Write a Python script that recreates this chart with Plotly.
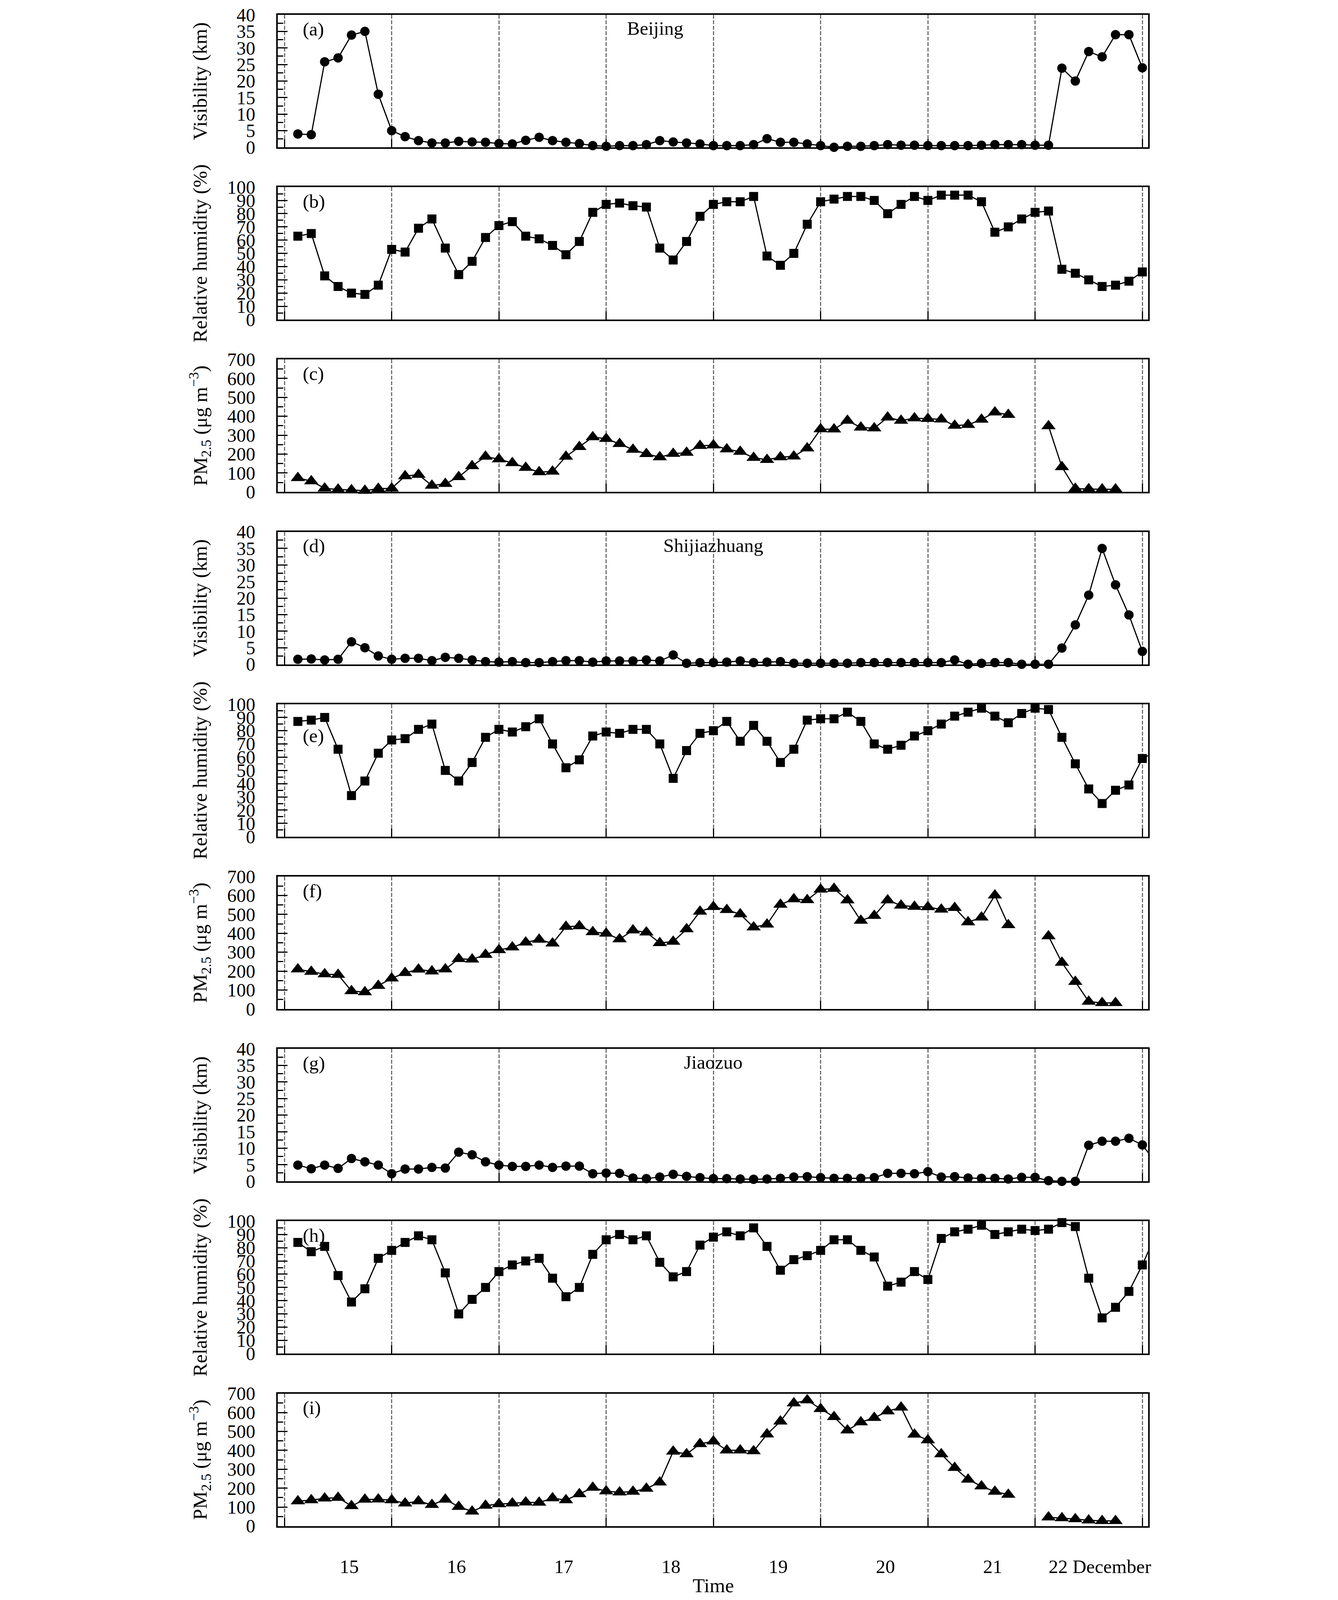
import plotly.graph_objects as go

# ---------------- data (3-hourly, 15-22 December) ----------------
hours = list(range(3, 196, 3))  # 65 time stamps in hours from 15 Dec 00:00 (last lies just past the axis end)

day_labels = ["15", "16", "17", "18", "19", "20", "21", "22 December"]

vis_ticks = [0, 5, 10, 15, 20, 25, 30, 35, 40]
rh_ticks = [0, 10, 20, 30, 40, 50, 60, 70, 80, 90, 100]
pm_ticks = [0, 100, 200, 300, 400, 500, 600, 700]

# Beijing
vis_beijing = [4, 3.8, 25.8, 27, 33.9, 35, 16, 5,
               3.2, 2, 1.3, 1.3, 1.8, 1.6, 1.5, 1.1,
               1, 2.1, 3, 2, 1.5, 1.1, 0.5, 0.3,
               0.5, 0.5, 0.8, 2, 1.6, 1.3, 1, 0.5,
               0.5, 0.5, 0.8, 2.6, 1.5, 1.5, 1, 0.5,
               0, 0.3, 0.3, 0.5, 0.8, 0.6, 0.6, 0.5,
               0.5, 0.5, 0.5, 0.6, 0.8, 0.8, 0.8, 0.6,
               0.6, 23.9, 20, 28.9, 27.3, 34, 34, 24,
               None]
rh_beijing = [63, 65, 33, 25, 20, 19, 26, 53,
              51, 69, 76, 54, 34, 44, 62, 71,
              74, 63, 61, 56, 49, 59, 81, 87,
              88, 86, 85, 54, 45, 59, 78, 87,
              89, 89, 93, 48, 41, 50, 72, 89,
              91, 93, 93, 90, 80, 87, 93, 90,
              94, 94, 94, 89, 66, 70, 76, 81,
              82, 38, 35, 30, 25, 26, 29, 36,
              None]
pm_beijing = [74, 57, 19, 13, 10, 7, 17, 19,
              84, 91, 34, 43, 79, 137, 187, 173,
              153, 128, 105, 108, 187, 238, 290, 281,
              254, 224, 201, 184, 202, 208, 244, 247,
              226, 213, 181, 170, 184, 188, 231, 332,
              331, 377, 341, 337, 394, 377, 390, 387,
              384, 351, 355, 383, 421, 408, None, None,
              348, 132, 17, 15, 14, 14, None, None,
              None]

# Shijiazhuang
vis_shijiazhuang = [1.5, 1.6, 1.3, 1.5, 6.8, 5, 2.5, 1.5,
                    1.8, 1.8, 1.1, 2.1, 1.8, 1.3, 0.8, 0.65,
                    0.8, 0.5, 0.5, 0.8, 1.1, 1.1, 0.65, 1,
                    1, 1, 1.3, 1, 2.8, 0.3, 0.5, 0.5,
                    0.65, 1, 0.5, 0.65, 0.8, 0.3, 0.3, 0.3,
                    0.3, 0.3, 0.5, 0.5, 0.5, 0.5, 0.5, 0.5,
                    0.5, 1.3, 0, 0.3, 0.5, 0.5, 0, 0,
                    0, 4.9, 11.9, 20.9, 35, 24, 14.9, 3.9,
                    None]
rh_shijiazhuang = [87, 88, 90, 66, 31, 42, 63, 73,
                   74, 81, 85, 50, 42, 56, 75, 81,
                   79, 83, 89, 70, 52, 58, 76, 79,
                   78, 81, 81, 70, 44, 65, 78, 80,
                   87, 72, 84, 72, 56, 66, 88, 89,
                   89, 94, 87, 70, 66, 69, 76, 80,
                   85, 91, 94, 97, 91, 86, 93, 97,
                   96, 75, 55, 36, 25, 35, 39, 59,
                   64]
pm_shijiazhuang = [210, 197, 184, 181, 95, 89, 123, 162,
                   191, 209, 199, 210, 265, 262, 287, 312,
                   326, 352, 367, 347, 435, 438, 407, 399,
                   369, 416, 405, 349, 356, 422, 515, 540,
                   524, 501, 432, 447, 552, 581, 576, 632,
                   636, 575, 467, 493, 575, 547, 541, 539,
                   526, 535, 459, 484, 601, 444, None, None,
                   385, 245, 144, 39, 32, 32, None, None,
                   None]

# Jiaozuo
vis_jiaozuo = [4.9, 3.8, 4.9, 3.9, 6.9, 5.9, 4.9, 2.3,
               3.7, 3.7, 4.2, 4, 8.8, 8, 5.9, 4.9,
               4.5, 4.5, 4.9, 4.2, 4.6, 4.6, 2.3, 2.5,
               2.4, 1, 0.8, 1.3, 2.1, 1.5, 1.1, 0.8,
               0.8, 0.7, 0.6, 0.7, 0.9, 1.3, 1.4, 1.1,
               0.9, 0.9, 0.9, 1.1, 2.4, 2.4, 2.3, 2.9,
               1.3, 1.4, 1, 0.9, 0.9, 0.7, 1.2, 1.2,
               0.2, 0, 0, 10.9, 12.1, 12.1, 13, 11,
               5.7]
rh_jiaozuo = [84, 77, 81, 59, 39, 49, 72, 78,
              84, 89, 86, 61, 30, 41, 50, 62,
              67, 70, 72, 57, 43, 50, 75, 86,
              90, 86, 89, 69, 58, 62, 82, 88,
              92, 89, 95, 81, 63, 71, 74, 78,
              86, 86, 78, 73, 51, 54, 62, 56,
              87, 92, 94, 97, 90, 92, 94, 93,
              94, 99, 96, 57, 27, 35, 47, 67,
              90]
pm_jiaozuo = [131, 137, 146, 150, 106, 140, 141, 137,
              120, 131, 112, 140, 102, 77, 108, 116,
              120, 125, 124, 147, 137, 169, 203, 184,
              178, 182, 198, 231, 394, 380, 434, 448,
              400, 400, 396, 485, 553, 649, 665, 619,
              577, 506, 549, 572, 607, 627, 484, 454,
              380, 308, 246, 210, 182, 166, None, None,
              46, 42, 37, 30, 27, 27, None, None,
              None]

# ---------------- styling / layout ----------------
# The viewing window is 3425 px wide but only 4096 px tall, so the
# 3425x4954 reference layout is mapped onto 3425x4096 (vertical factor SY).
FONT = "Liberation Serif"
REF_H = 4954
W, H = 3425, 4096
SY = H / REF_H
FS = 0.88  # font / marker scale to suit the squeezed height

ML, MR = 711, 486
REF_TOP0, REF_STEP, REF_PANEL_H = 34, 535, 411
MT = round(REF_TOP0 * SY)
last_bottom = (REF_TOP0 + 8 * REF_STEP + REF_PANEL_H) * SY
MB = round(H - last_bottom)
PLOT_W = W - ML - MR
PLOT_H = H - MT - MB
PANEL_H = REF_PANEL_H * SY
PANEL_STEP = REF_STEP * SY
N_MARK = 64  # markers drawn for the in-range stamps only

vis_title = "Visibility (km)"
rh_title = "Relative humidity (%)"
pm_title = "PM<sub>2.5</sub> (μg m<sup>−3</sup>)"

CIRCLE, SQUARE, TRI = round(27 * FS), round(26 * FS), round(36 * FS)
panels = [
    ("(a)", "Beijing", vis_beijing, "circle", CIRCLE, vis_title, vis_ticks, 2.5),
    ("(b)", None, rh_beijing, "square", SQUARE, rh_title, rh_ticks, 5),
    ("(c)", None, pm_beijing, "triangle-up", TRI, pm_title, pm_ticks, 50),
    ("(d)", "Shijiazhuang", vis_shijiazhuang, "circle", CIRCLE, vis_title, vis_ticks, 2.5),
    ("(e)", None, rh_shijiazhuang, "square", SQUARE, rh_title, rh_ticks, 5),
    ("(f)", None, pm_shijiazhuang, "triangle-up", TRI, pm_title, pm_ticks, 50),
    ("(g)", "Jiaozuo", vis_jiaozuo, "circle", CIRCLE, vis_title, vis_ticks, 2.5),
    ("(h)", None, rh_jiaozuo, "square", SQUARE, rh_title, rh_ticks, 5),
    ("(i)", None, pm_jiaozuo, "triangle-up", TRI, pm_title, pm_ticks, 50),
]
city_x = {"Beijing": 83, "Shijiazhuang": 96, "Jiaozuo": 96}
tag_drop = {"(e)": 98}  # reference px below the panel top; others use 44

label_pos = [24 * i + 14.5 for i in range(len(day_labels))]

F_TICK_Y = round(54 * FS)
F_TICK_X = round(56 * FS)
F_TITLE = round(58 * FS)
F_LABEL = round(56 * FS)

fig = go.Figure()
annotations = []
layout_axes = {}

for i, (tag, city, series, sym, msize, ytitle, yticks, yminor) in enumerate(panels):
    n = i + 1
    xs = "x" if n == 1 else f"x{n}"
    ys = "y" if n == 1 else f"y{n}"
    top_px = i * PANEL_STEP
    y1 = 1 - top_px / PLOT_H
    y0 = 1 - (top_px + PANEL_H) / PLOT_H

    fig.add_trace(go.Scatter(x=hours, y=series, mode="lines",
                             line=dict(color="black", width=3),
                             connectgaps=False, xaxis=xs, yaxis=ys,
                             showlegend=False, hoverinfo="skip"))
    fig.add_trace(go.Scatter(x=hours[:N_MARK], y=series[:N_MARK], mode="markers",
                             marker=dict(symbol=sym, size=msize, color="black",
                                         line=dict(width=0)),
                             cliponaxis=False, xaxis=xs, yaxis=ys,
                             showlegend=False))

    xkey = "xaxis" if n == 1 else f"xaxis{n}"
    ykey = "yaxis" if n == 1 else f"yaxis{n}"
    layout_axes[xkey] = dict(
        domain=[0, 1], anchor=ys, range=[-1.5, 193.3],
        showline=True, mirror=True, linecolor="black", linewidth=4,
        showgrid=False, zeroline=False, ticks="",
        tickmode="array", tickvals=label_pos, ticktext=day_labels,
        showticklabels=(n == 9),
        tickfont=dict(family=FONT, size=F_TICK_X, color="black"),
        ticklabelstandoff=round(70 * SY),
        minor=dict(tick0=0, dtick=24, ticks="inside", ticklen=round(25 * SY), tickwidth=3,
                   tickcolor="black", showgrid=True, gridcolor="#6e6e6e",
                   gridwidth=3, griddash="10px,4px"),
        layer="below traces",
    )
    layout_axes[ykey] = dict(
        domain=[y0, y1], anchor=xs, range=[0, yticks[-1]],
        showline=True, mirror=True, linecolor="black", linewidth=4,
        showgrid=False, zeroline=False,
        ticks="inside", ticklen=25, tickwidth=3, tickcolor="black",
        tickmode="array", tickvals=yticks,
        tickfont=dict(family=FONT, size=F_TICK_Y, color="black"),
        ticklabelstandoff=44,
        minor=dict(tick0=0, dtick=yminor, ticks="inside", ticklen=14, tickwidth=3,
                   tickcolor="black", showgrid=False),
        layer="below traces",
    )

    annotations.append(dict(text=ytitle, xref="paper", yref="paper",
                            x=(512 - ML) / PLOT_W, y=(y0 + y1) / 2,
                            xanchor="center", yanchor="middle", textangle=-90,
                            showarrow=False, font=dict(family=FONT, size=F_TITLE, color="black")))
    annotations.append(dict(text=tag, xref=f"{xs} domain", yref=f"{ys} domain",
                            x=0.028, y=1 - tag_drop.get(tag, 44) / REF_PANEL_H,
                            xanchor="left", yanchor="middle",
                            showarrow=False, font=dict(family=FONT, size=F_LABEL, color="black")))
    if city:
        annotations.append(dict(text=city, xref=xs, yref=f"{ys} domain",
                                x=city_x[city], y=1 - 42 / REF_PANEL_H,
                                xanchor="center", yanchor="middle",
                                showarrow=False, font=dict(family=FONT, size=F_LABEL, color="black")))

annotations.append(dict(text="Time", xref="x9", yref="paper", x=96,
                        y=-(184 * SY) / PLOT_H, xanchor="center", yanchor="middle",
                        showarrow=False, font=dict(family=FONT, size=F_TITLE, color="black")))

fig.update_layout(
    width=W, height=H,
    margin=dict(l=ML, r=MR, t=MT, b=MB),
    paper_bgcolor="white", plot_bgcolor="white",
    font=dict(family=FONT, color="black"),
    annotations=annotations,
    showlegend=False,
    **layout_axes,
)

# page without body margin so the figure fills the window exactly
fig.write_html("out.html", config={"displayModeBar": False},
               post_script="document.body.style.margin = '0';")
